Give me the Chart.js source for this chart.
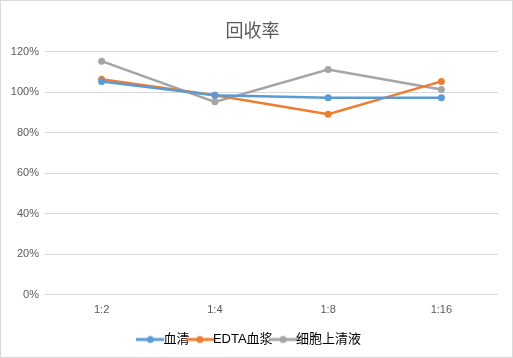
<!DOCTYPE html>
<html>
<head>
<meta charset="utf-8">
<script src="https://cdn.jsdelivr.net/npm/chart.js@4/dist/chart.umd.min.js"></script>
<style>
  html, body { margin: 0; padding: 0; background: #fff; }
  #wrap { position: relative; width: 511px; height: 356px; border: 1px solid #d9d9d9; }
</style>
</head>
<body>
<div id="wrap"><canvas id="chart" width="511" height="356"></canvas></div>
<script>
const categories = ['1:2', '1:4', '1:8', '1:16'];
const seriesNames = ['血清', 'EDTA血浆', '细胞上清液'];
const serum = [105.2, 98.5, 97.2, 97.2];
const edtaPlasma = [106.4, 98.5, 89.1, 105.3];
const cellSupernatant = [115.3, 95.2, 111.2, 101.3];
const yTicks = [0, 20, 40, 60, 80, 100, 120];
const colors = ['#5b9bd5', '#ed7d31', '#a5a5a5'];

const FONT = "'Liberation Sans', 'Noto Sans CJK SC', sans-serif";

function legendMarker(color) {
  const c = document.createElement('canvas');
  c.width = 28; c.height = 10;
  const g = c.getContext('2d');
  g.strokeStyle = color;
  g.lineWidth = 3;
  g.beginPath(); g.moveTo(0, 5); g.lineTo(28, 5); g.stroke();
  g.fillStyle = color;
  g.beginPath(); g.arc(14, 5, 3.5, 0, Math.PI * 2); g.fill();
  return c;
}

function makeSet(label, data, color) {
  return {
    label: label,
    data: data,
    borderColor: color,
    backgroundColor: color,
    borderWidth: 2.5,
    pointRadius: 3.5,
    pointHoverRadius: 3.5,
    pointBorderWidth: 0,
    tension: 0
  };
}

const ctx = document.getElementById('chart').getContext('2d');
new Chart(ctx, {
  type: 'line',
  data: {
    labels: categories,
    datasets: [
      makeSet(seriesNames[0], serum, colors[0]),
      makeSet(seriesNames[1], edtaPlasma, colors[1]),
      makeSet(seriesNames[2], cellSupernatant, colors[2])
    ]
  },
  options: {
    responsive: false,
    animation: false,
    layout: { padding: { left: 6, right: 14, top: 0, bottom: 1 } },
    plugins: {
      title: {
        display: true,
        text: '回收率',
        color: '#595959',
        font: { family: FONT, size: 18, weight: 'normal' },
        padding: { top: 20, bottom: 9 }
      },
      legend: {
        position: 'bottom',
        labels: {
          color: '#000',
          font: { family: FONT, size: 13 },
          usePointStyle: true,
          boxWidth: 28,
          padding: 4,
          generateLabels(chart) {
            const items = Chart.defaults.plugins.legend.labels.generateLabels(chart);
            items.forEach((it, i) => { it.pointStyle = legendMarker(colors[i]); });
            return items;
          }
        }
      },
      tooltip: { enabled: false }
    },
    scales: {
      x: {
        offset: true,
        grid: { display: false },
        border: { display: false },
        afterFit(axis) { axis.height += 11; },
        ticks: { color: '#595959', font: { family: FONT, size: 11 }, padding: 1 }
      },
      y: {
        min: 0,
        max: 120,
        afterBuildTicks(axis) { axis.ticks = yTicks.map(v => ({ value: v })); },
        afterFit(axis) { axis.width = 38; },
        grid: { color: '#d9d9d9', drawTicks: false },
        border: { display: false },
        ticks: {
          color: '#595959',
          font: { family: FONT, size: 11 },
          padding: 6,
          callback: v => v + '%'
        }
      }
    }
  }
});
</script>
</body>
</html>
